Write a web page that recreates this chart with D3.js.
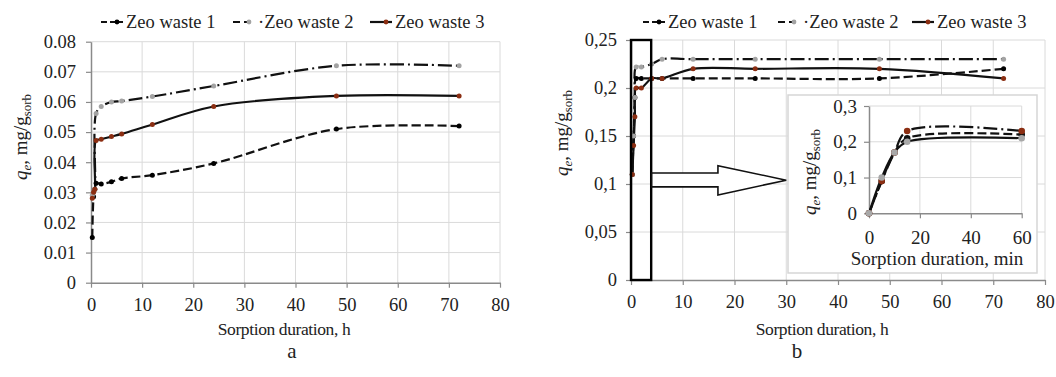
<!DOCTYPE html>
<html>
<head>
<meta charset="utf-8">
<script src="https://cdn.jsdelivr.net/npm/d3@7"></script>
<style>
  body { margin: 0; background: #fff; }
  svg, svg text { font-family: "Liberation Serif", "Times New Roman", Tinos, "DejaVu Serif", "Noto Serif", serif !important; }
</style>
</head>
<body>
<div id="canvas"></div>
<script>
// ---- data ----
const seriesNames = ['Zeo waste 1', 'Zeo waste 2', 'Zeo waste 3'];
const legendLabels = ['Zeo waste 1', '\u00b7Zeo waste 2', 'Zeo waste 3'];

// panel a (hours)
const hoursA = [0.25, 0.5, 0.75, 1, 2, 4, 6, 12, 24, 48, 72];
const wasteA1 = [0.015, 0.0285, 0.031, 0.033, 0.0328, 0.0335, 0.0346, 0.0357, 0.0396, 0.051, 0.052];
const wasteA2 = [0.029, 0.030, 0.031, 0.0562, 0.0585, 0.060, 0.0603, 0.0618, 0.0653, 0.072, 0.072];
const wasteA3 = [0.028, 0.030, 0.031, 0.0472, 0.0476, 0.0485, 0.0494, 0.0525, 0.0585, 0.062, 0.062];

// panel b (hours)
const hoursB = [0.25, 0.5, 0.75, 1, 2, 4, 6, 12, 24, 48, 72];
const wasteB1 = [0.11, 0.15, 0.19, 0.21, 0.21, 0.21, 0.21, 0.21, 0.21, 0.21, 0.22];
const wasteB2 = [0.11, 0.15, 0.19, 0.222, 0.222, 0.225, 0.23, 0.23, 0.23, 0.23, 0.23];
const wasteB3 = [0.11, 0.14, 0.17, 0.20, 0.20, 0.21, 0.21, 0.22, 0.22, 0.22, 0.21];

// inset of panel b (minutes)
const minutesInset = [0, 5, 10, 15, 60];
const insetW1 = [0, 0.09, 0.17, 0.21, 0.22];
const insetW2 = [0, 0.09, 0.17, 0.23, 0.23];
const insetW3 = [0, 0.10, 0.17, 0.20, 0.21];

// ticks
const xTicks = [0, 10, 20, 30, 40, 50, 60, 70, 80];
const yTicksA = [0, 0.01, 0.02, 0.03, 0.04, 0.05, 0.06, 0.07, 0.08];
const yTicksB = [0, 0.05, 0.1, 0.15, 0.2, 0.25];
const xTicksInset = [0, 20, 40, 60];
const yTicksInset = [0, 0.1, 0.2, 0.3];

// zoom box (hours) and arrow (data units of panel b)
const zoomBox = [0, 3.9];
const arrowX = [4, 16.8, 30];
const arrowY = { shaftTop: 0.1115, shaftBot: 0.097, headTop: 0.119, headBot: 0.0885, tip: 0.104 };

// ---- styles ----
const FONT = '"Liberation Serif", "Times New Roman", Tinos, "DejaVu Serif", "Noto Serif", serif';
const dashes = ['9,4', '14,4,2,4', null];
const markerFill = ['#000', '#a3a3a3', '#8b2e12'];
const gridColor = '#dadada';
const axisColor = '#8a8a8a';

const W = 1056, H = 377;
const svg = d3.select('#canvas').append('svg').attr('width', W).attr('height', H)
  .attr('font-family', FONT);
svg.append('rect').attr('width', W).attr('height', H).attr('fill', '#fff');

const commaFmt = d => d === 0 ? '0' : String(d).replace('.', ',');
const dotFmt = d => d === 0 ? '0' : String(d);

function yLabel(x, y, size) {
  const t = svg.append('text')
    .attr('transform', `translate(${x},${y}) rotate(-90)`)
    .attr('text-anchor', 'middle')
    .attr('font-family', FONT)
    .attr('font-size', size)
    .attr('fill', '#222');
  t.append('tspan').attr('font-style', 'italic').text('q');
  t.append('tspan').attr('font-style', 'italic').attr('font-size', size * 0.68).attr('dy', 4).text('e');
  t.append('tspan').attr('dy', -4).text(', mg/g');
  t.append('tspan').attr('font-size', size * 0.68).attr('dy', 4).text('sorb');
}

function label(x, y, size, txt, ls) {
  svg.append('text').attr('x', x).attr('y', y).attr('text-anchor', 'middle')
    .attr('font-family', FONT).attr('font-size', size)
    .attr('letter-spacing', ls || 0).attr('fill', '#222').text(txt);
}

function panel(o) {
  const g = svg.append('g');
  const x = d3.scaleLinear().domain(o.xDomain).range(o.xRange);
  const y = d3.scaleLinear().domain(o.yDomain).range(o.yRange);

  // grid
  g.append('g').selectAll('line').data(o.yTicks.slice(1)).join('line')
    .attr('x1', o.xRange[0]).attr('x2', o.xRange[1])
    .attr('y1', d => y(d)).attr('y2', d => y(d))
    .attr('stroke', gridColor).attr('stroke-width', 1);
  g.append('g').selectAll('line').data(o.xTicks.slice(1)).join('line')
    .attr('x1', d => x(d)).attr('x2', d => x(d))
    .attr('y1', o.yRange[0]).attr('y2', o.yRange[1])
    .attr('stroke', gridColor).attr('stroke-width', 1);

  // axes
  const ax = g.append('g').attr('transform', `translate(0,${o.yRange[0]})`)
    .call(d3.axisBottom(x).tickValues(o.xTicks).tickSize(5).tickSizeOuter(0).tickPadding(o.xPad).tickFormat(d => d));
  const ay = g.append('g').attr('transform', `translate(${o.xRange[0]},0)`)
    .call(d3.axisLeft(y).tickValues(o.yTicks).tickSize(5).tickSizeOuter(0).tickPadding(o.yPad).tickFormat(o.fmt));
  [ax, ay].forEach(a => {
    a.attr('font-family', FONT).attr('font-size', o.tickSize);
    a.select('.domain').attr('stroke', axisColor).attr('stroke-width', 1.5);
    a.selectAll('.tick line').attr('stroke', axisColor).attr('stroke-width', 1.2);
    a.selectAll('text').attr('fill', '#222');
  });

  // series
  const line = d3.line().x(d => x(d[0])).y(d => y(d[1])).curve(d3.curveCatmullRom.alpha(0.5));
  o.series.forEach((vals, i) => {
    const pts = o.xs.map((t, k) => [t, vals[k]]);
    g.append('path').attr('d', line(pts)).attr('fill', 'none')
      .attr('stroke', '#111').attr('stroke-width', o.lw)
      .attr('stroke-dasharray', o.dash[i]);
  });
  o.series.forEach((vals, i) => {
    g.append('g').selectAll('circle').data(o.xs.map((t, k) => [t, vals[k]])).join('circle')
      .attr('cx', d => x(d[0])).attr('cy', d => y(d[1])).attr('r', o.r)
      .attr('fill', o.fill[i]);
  });
  return { g, x, y };
}

function legend(items) {
  items.forEach((xx, i) => {
    const g = svg.append('g').attr('transform', `translate(${xx},22)`);
    g.append('line').attr('x1', 0).attr('x2', 22).attr('y1', 0).attr('y2', 0)
      .attr('stroke', '#111').attr('stroke-width', 2.2)
      .attr('stroke-dasharray', i === 0 ? '6,3' : (i === 1 ? '7,4' : null));
    g.append('circle').attr('cx', 16).attr('cy', 0).attr('r', 2.4).attr('fill', markerFill[i]);
    g.append('text').attr('x', 25).attr('y', 6).attr('font-family', FONT).attr('font-size', 18.5)
      .attr('fill', '#222').text(legendLabels[i]);
  });
}

// ---- panel a ----
panel({
  xDomain: [0, 80], xRange: [91, 500],
  yDomain: [0, 0.08], yRange: [282.7, 41.7],
  xTicks: xTicks, yTicks: yTicksA, fmt: dotFmt,
  xPad: 10, yPad: 10, tickSize: 18.5,
  xs: hoursA, series: [wasteA1, wasteA2, wasteA3],
  dash: dashes, fill: markerFill, lw: 2.2, r: 2.5
});
legend([101, 233, 370]);
yLabel(27, 137, 19);
label(284, 335, 17.5, 'Sorption duration, h', -0.4);
label(292, 358, 21, 'a');

// ---- panel b ----
const pb = panel({
  xDomain: [0, 80], xRange: [631, 1045],
  yDomain: [0, 0.25], yRange: [280, 40],
  xTicks: xTicks, yTicks: yTicksB, fmt: commaFmt,
  xPad: 10, yPad: 9, tickSize: 18.5,
  xs: hoursB, series: [wasteB1, wasteB2, wasteB3],
  dash: dashes, fill: markerFill, lw: 2.2, r: 2.5
});
legend([643, 778, 912]);
yLabel(568, 133, 19);
label(822, 335, 17.5, 'Sorption duration, h', -0.4);
label(797, 358, 21, 'b');

// zoom rectangle
pb.g.append('rect')
  .attr('x', pb.x(zoomBox[0])).attr('y', pb.y(0.25))
  .attr('width', pb.x(zoomBox[1]) - pb.x(zoomBox[0])).attr('height', pb.y(0) - pb.y(0.25))
  .attr('fill', 'none').attr('stroke', '#000').attr('stroke-width', 2.4);

// block arrow
const ap = [
  [arrowX[0], arrowY.shaftTop], [arrowX[1], arrowY.shaftTop], [arrowX[1], arrowY.headTop],
  [arrowX[2], arrowY.tip], [arrowX[1], arrowY.headBot], [arrowX[1], arrowY.shaftBot],
  [arrowX[0], arrowY.shaftBot]
].map(p => [pb.x(p[0]), pb.y(p[1])]);
pb.g.append('polygon').attr('points', ap.map(p => p.join(',')).join(' '))
  .attr('fill', '#fff').attr('stroke', '#111').attr('stroke-width', 1.6);

// ---- inset ----
svg.append('rect').attr('x', 788).attr('y', 95).attr('width', 249).attr('height', 178)
  .attr('fill', '#fff').attr('stroke', '#d6d6d6').attr('stroke-width', 1.5);
panel({
  xDomain: [0, 60], xRange: [869, 1021.7],
  yDomain: [0, 0.3], yRange: [213.3, 106],
  xTicks: xTicksInset, yTicks: yTicksInset, fmt: commaFmt,
  xPad: 12, yPad: 7, tickSize: 19,
  xs: minutesInset, series: [insetW1, insetW2, insetW3],
  dash: dashes, fill: ['#111', '#8b2e12', '#a8a8a8'], lw: 2.2, r: 3.3
});
yLabel(816, 172, 19);
label(937, 265, 19, 'Sorption duration, min');
</script>
</body>
</html>
